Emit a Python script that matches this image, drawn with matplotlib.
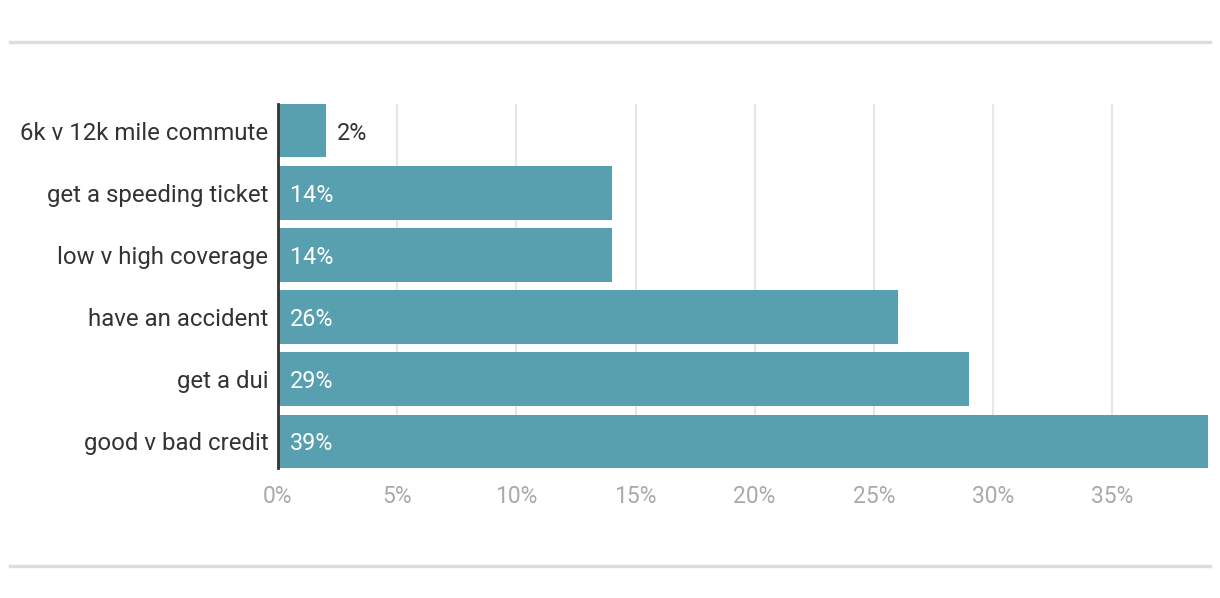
import matplotlib
matplotlib.use("Agg")
import matplotlib.pyplot as plt
from matplotlib.lines import Line2D

plt.rcParams['font.family'] = ['Roboto', 'DejaVu Sans']

# data
categories = ["6k v 12k mile commute", "get a speeding ticket", "low v high coverage",
              "have an accident", "get a dui", "good v bad credit"]
values = [2, 14, 14, 26, 29, 39]
tick_values = [0, 5, 10, 15, 20, 25, 30, 35]
tick_labels = ["0%", "5%", "10%", "15%", "20%", "25%", "30%", "35%"]

bar_color = "#589faf"

fig = plt.figure(figsize=(12.2, 5.98), dpi=100)
ax = fig.add_axes([278 / 1220, 1 - 468 / 598, 930 / 1220, 364 / 598])

ypos = list(range(len(categories)))
ax.barh(ypos, values, height=0.86, color=bar_color, zorder=2)

ax.set_xlim(0, 39.02)
ax.set_ylim(len(categories) - 0.57, -0.43)

ax.set_yticks(ypos)
ax.set_yticklabels(categories, fontsize=17.3, color="#333333")
ax.set_xticks(tick_values)
ax.set_xticklabels(tick_labels, fontsize=16.5, color="#aaaaaa")
ax.tick_params(axis="both", length=0)
ax.tick_params(axis="y", pad=7)
ax.tick_params(axis="x", pad=12)

ax.grid(axis="x", color="#e6e6e6", linewidth=1.5, zorder=0)
for s in ["top", "right", "bottom"]:
    ax.spines[s].set_visible(False)
ax.spines["left"].set_color("#333333")
ax.spines["left"].set_linewidth(2)
ax.spines["left"].set_zorder(3)

# value labels: inside (white) for wide bars, outside (dark) for small ones
for y, v in zip(ypos, values):
    if v < 5:
        ax.text(v + 0.45, y, f"{v}%", va="center_baseline", ha="left", fontsize=16.8, color="#333333")
    else:
        ax.text(0.5, y, f"{v}%", va="center_baseline", ha="left", fontsize=16.8, color="white", zorder=4)

# separator lines top and bottom
for yy in [1 - 42 / 598, 1 - 566 / 598]:
    fig.add_artist(Line2D([10 / 1220, 1210 / 1220], [yy, yy], color="#dddddd", linewidth=2.5))

fig.savefig("out.png", dpi=100)
